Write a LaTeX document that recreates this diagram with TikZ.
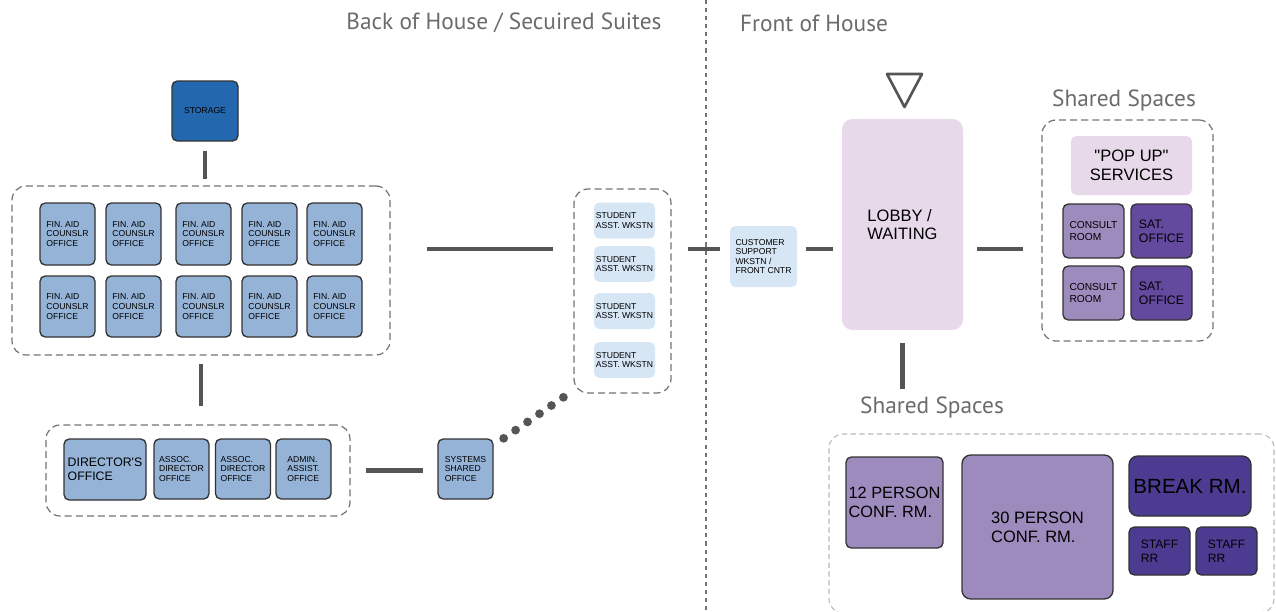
\documentclass[tikz,border=0pt]{standalone}
\usepackage{fontspec}
\setmainfont{Liberation Sans}[Ligatures=TeXOff]
\newfontfamily\ttlfont{PT Sans}

\definecolor{storeblue}{HTML}{2368AE}
\definecolor{offblue}{HTML}{95B3D7}
\definecolor{wkblue}{HTML}{D6E6F5}
\definecolor{lilac}{HTML}{E7D9EA}
\definecolor{midpurple}{HTML}{9D8BBD}
\definecolor{satpurple}{HTML}{634A9E}
\definecolor{deeppurple}{HTML}{4B3B91}
\definecolor{linkgray}{HTML}{555555}
\definecolor{ttlgray}{HTML}{6B6B6B}

\tikzset{
  dims/.style 2 args={minimum width=#1*0.02cm, minimum height=#2*0.02cm},
  room/.style={draw=black!80, line width=0.75pt, rounded corners=3pt, inner sep=0pt, align=left, text=black},
  soft/.style={rounded corners=3pt, inner sep=0pt, align=left, text=black},
  grp/.style={draw=black!55, line width=0.7pt, dash pattern=on 4pt off 2.3pt, rounded corners=8pt, inner sep=0pt},
  ttl/.style={text=ttlgray, font=\ttlfont\fontsize{13.3}{15}\selectfont, inner sep=0pt},
  link/.style={draw=linkgray, line width=2.8pt},
  tiny/.style={font=\fontsize{4.9}{5.5}\selectfont},
  mid/.style={font=\fontsize{7}{8}\selectfont},
  big/.style={font=\fontsize{9.4}{10.6}\selectfont}
}

\begin{document}
\begin{tikzpicture}[x=0.02cm, y=-0.02cm]
\useasboundingbox (0,0) rectangle (1276,612);

% Titulos y division
\node [ttl] (back) at (504,23) {Back of House / Secuired Suites};
\node [ttl] (front) at (814,23) {Front of House};
\draw [black!55, line width=0.6pt, dash pattern=on 2.3pt off 2.3pt] (706,0) -- (706,612);
\coordinate (axis) at (0,249);

% Back of house
\node [room, tiny, fill=storeblue, dims={66}{60}] (storage) at (205,111) {STORAGE};
\node [grp, dims={378}{169}] (grp1) at (201,270.5) {};
\foreach \x [count=\i] in {67.5,133.5,203.5,269.5,334.5} {
  \node [room, tiny, fill=offblue, dims={55}{62}] (oa\i) at (\x,234) {FIN. AID\\COUNSLR\\OFFICE};
  \node [room, tiny, fill=offblue, dims={55}{61}] (ob\i) at (\x,306.5) {FIN. AID\\COUNSLR\\OFFICE};
}

\node [grp, dims={304}{91}] (grp2) at (198,470.5) {};
\node [room, mid, fill=offblue, dims={82}{61}] (director) at (105,469.5) {DIRECTOR'S\\OFFICE};
\node [room, tiny, fill=offblue, dims={55}{60}] (assoc1) at (181.5,469) {ASSOC.\\DIRECTOR\\OFFICE};
\node [room, tiny, fill=offblue, dims={55}{60}] (assoc2) at (243,469) {ASSOC.\\DIRECTOR\\OFFICE};
\node [room, tiny, fill=offblue, dims={55}{60}] (admin) at (303.5,469) {ADMIN.\\ASSIST.\\OFFICE};
\node [room, tiny, fill=offblue, dims={55}{60}] (systems) at (465.5,469) {SYSTEMS\\SHARED\\OFFICE};

\node [grp, dims={97}{204}] (students) at (622.5,291) {};
\foreach \y [count=\i] in {220.5,264,311,360} {
  \node [soft, tiny, fill=wkblue, dims={61}{36}] (st\i) at (624.5,\y) {STUDENT\\ASST. WKSTN};
}

% Front of house
\node [soft, font=\fontsize{4.9}{5.3}\selectfont, fill=wkblue, dims={67}{61}] (cust) at (763.5,256.5) {CUSTOMER\\SUPPORT\\WKSTN /\\FRONT CNTR};
\node [soft, big, fill=lilac, rounded corners=6pt, dims={121}{211}] (lobby) at (902.5,224.5) {LOBBY /\\WAITING};
\draw [linkgray, line width=1.5pt, line join=round] (887,74) -- (922,74) -- (904.5,107) -- cycle;

\node [ttl] (ttl1) at (1124,101) {Shared Spaces};
\node [grp, dims={171}{221}] (shareA) at (1127.5,230.5) {};
\node [soft, big, align=center, fill=lilac, dims={121}{59}] (popup) at (1131.5,165.5) {"POP UP"\\SERVICES};
\node [room, font=\fontsize{5.8}{7}\selectfont, fill=midpurple, dims={61}{54}] (cons1) at (1093.5,231) {CONSULT\\ROOM};
\node [room, font=\fontsize{5.8}{7}\selectfont, fill=midpurple, dims={61}{54}] (cons2) at (1093.5,293) {CONSULT\\ROOM};
\node [room, mid, fill=satpurple, dims={61}{54}] (sat1) at (1161.5,231) {SAT.\\OFFICE};
\node [room, mid, fill=satpurple, dims={61}{54}] (sat2) at (1161.5,293) {SAT.\\OFFICE};

\node [ttl] (ttl2) at (932,408) {Shared Spaces};
\node [grp, draw=black!28, line width=0.6pt, dash pattern=on 3pt off 2pt, dims={445}{179}] (shareB) at (1051.5,523.5) {};
\node [room, font=\fontsize{9.3}{11}\selectfont, fill=midpurple, dims={97}{91}] (conf12) at (894.5,502.5) {12 PERSON\\CONF. RM.};
\node [room, font=\fontsize{9.4}{11}\selectfont, fill=midpurple, rounded corners=5pt, dims={151}{144}] (conf30) at (1037.5,527) {30 PERSON\\CONF. RM.};
\node [room, font=\fontsize{11.7}{13}\selectfont, fill=deeppurple, rounded corners=5pt, dims={122}{60}] (break) at (1190,486) {BREAK RM.};
\node [room, font=\fontsize{6.9}{8}\selectfont, fill=deeppurple, dims={61}{48}] (staff1) at (1159.5,551) {STAFF\\RR};
\node [room, font=\fontsize{6.9}{8}\selectfont, fill=deeppurple, dims={61}{48}] (staff2) at (1226.5,551) {STAFF\\RR};

% Conexiones
\draw [link, shorten <=0.18cm, shorten >=0.12cm] (storage.south) -- (storage.south |- grp1.north);
\draw [link, shorten <=0.16cm, shorten >=0.36cm] (grp1.south) -- (grp1.south |- grp2.north);
\draw [link, shorten <=0.30cm, shorten >=0.28cm] (grp2.east) -- (grp2.east -| systems.west);
\draw [linkgray, line width=5pt, line cap=round, dash pattern=on 0pt off 0.29cm]
  ([xshift=0.2cm]systems.north east) -- ([xshift=-0.18cm, yshift=-0.06cm]students.south west);
\draw [link, shorten <=0.72cm, shorten >=0.40cm] (grp1.east |- axis) -- (students.west |- axis);
\draw [link, shorten <=0.32cm, shorten >=0.20cm] (students.east |- axis) -- (cust.west |- axis);
\draw [link, shorten <=0.18cm, shorten >=0.18cm] (cust.east |- axis) -- (lobby.west |- axis);
\draw [link, shorten <=0.28cm, shorten >=0.36cm] (lobby.east |- axis) -- (shareA.west |- axis);
\draw [link, shorten <=0.26cm, shorten >=0.16cm] (lobby.south) -- (lobby.south |- ttl2.north);
\end{tikzpicture}
\end{document}
